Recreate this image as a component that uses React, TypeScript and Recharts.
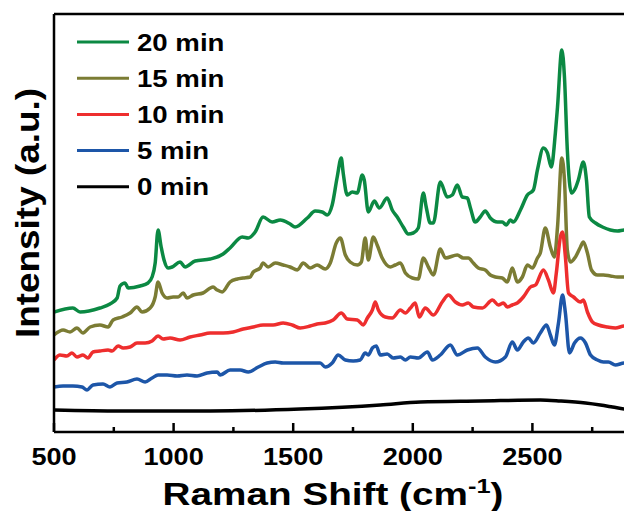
import React from 'react';
import { LineChart, Line, XAxis, YAxis, Legend } from 'recharts';

const seriesNames = ['20 min', '15 min', '10 min', '5 min', '0 min'];
const seriesColors = ['#0B8943', '#7B7C34', '#EE2E2E', '#1D56A8', '#000000'];

const wn20 = [500, 579, 609, 692, 734, 764, 776, 797, 810, 860, 893, 910, 923, 935, 948, 960, 977, 994, 1027, 1048, 1090, 1153, 1207, 1236, 1287, 1312, 1341, 1374, 1412, 1446, 1487, 1508, 1559, 1592, 1621, 1642, 1663, 1684, 1701, 1709, 1726, 1747, 1768, 1789, 1797, 1814, 1839, 1860, 1893, 1914, 1935, 1960, 1981, 2002, 2023, 2044, 2056, 2073, 2086, 2115, 2144, 2165, 2186, 2207, 2228, 2241, 2261, 2282, 2303, 2324, 2354, 2374, 2391, 2408, 2420, 2450, 2479, 2504, 2521, 2546, 2563, 2579, 2596, 2605, 2623, 2634, 2646, 2663, 2680, 2692, 2713, 2726, 2738, 2764, 2793, 2826, 2856, 2885, 2950];
const int20 = [120, 124, 120, 124, 128, 134, 146, 149, 144, 146, 149, 155, 169, 202, 185, 172, 164, 165, 170, 165, 171, 173, 178, 184, 195, 194, 200, 215, 210, 212, 208, 205, 214, 221, 220, 217, 227, 255, 274, 259, 237, 240, 239, 257, 252, 220, 231, 224, 234, 222, 215, 205, 198, 199, 204, 239, 225, 209, 209, 250, 235, 237, 247, 235, 234, 224, 210, 215, 221, 214, 210, 210, 207, 212, 210, 222, 237, 242, 262, 284, 279, 265, 299, 325, 382, 355, 282, 239, 244, 252, 270, 252, 215, 209, 205, 202, 201, 202, 201];

const wn15 = [500, 538, 567, 596, 621, 651, 692, 726, 747, 785, 818, 847, 868, 902, 923, 935, 952, 973, 998, 1019, 1040, 1056, 1082, 1123, 1165, 1182, 1203, 1236, 1266, 1291, 1320, 1333, 1362, 1374, 1395, 1425, 1458, 1487, 1517, 1542, 1571, 1600, 1634, 1655, 1680, 1697, 1718, 1738, 1768, 1785, 1801, 1814, 1835, 1851, 1872, 1906, 1927, 1948, 1969, 1998, 2023, 2044, 2065, 2086, 2115, 2136, 2186, 2211, 2232, 2253, 2274, 2303, 2324, 2345, 2374, 2395, 2416, 2437, 2458, 2479, 2500, 2521, 2533, 2554, 2575, 2592, 2605, 2623, 2634, 2646, 2659, 2680, 2701, 2713, 2730, 2747, 2772, 2797, 2826, 2856, 2885, 2950];
const int15 = [97, 102, 100, 104, 99, 105, 107, 105, 112, 115, 119, 125, 120, 124, 135, 150, 139, 134, 135, 135, 139, 134, 137, 139, 145, 142, 140, 150, 153, 154, 155, 160, 164, 169, 165, 169, 167, 165, 162, 169, 164, 167, 163, 169, 189, 194, 177, 170, 167, 170, 194, 172, 195, 187, 174, 165, 167, 169, 159, 154, 153, 174, 165, 157, 183, 174, 177, 174, 174, 169, 164, 162, 157, 155, 154, 150, 164, 150, 155, 167, 164, 174, 179, 204, 185, 175, 205, 274, 252, 182, 170, 175, 185, 190, 179, 162, 157, 157, 156, 155, 155, 155];

const wn10 = [500, 525, 554, 575, 596, 621, 642, 663, 692, 726, 743, 768, 789, 818, 847, 881, 910, 935, 956, 985, 1027, 1069, 1111, 1153, 1207, 1249, 1291, 1333, 1374, 1416, 1458, 1496, 1529, 1571, 1600, 1634, 1667, 1701, 1726, 1768, 1793, 1810, 1831, 1843, 1856, 1885, 1914, 1948, 1969, 1990, 2010, 2027, 2052, 2086, 2123, 2149, 2178, 2207, 2232, 2253, 2291, 2333, 2358, 2379, 2395, 2416, 2437, 2462, 2492, 2513, 2546, 2567, 2588, 2600, 2617, 2626, 2638, 2651, 2672, 2701, 2713, 2730, 2751, 2776, 2814, 2847, 2885, 2950];
const int10 = [72, 77, 76, 79, 75, 77, 74, 80, 81, 82, 81, 86, 84, 85, 89, 89, 91, 96, 93, 94, 92, 95, 97, 99, 99, 100, 103, 105, 107, 107, 109, 107, 104, 106, 108, 109, 112, 119, 113, 112, 107, 114, 122, 130, 122, 115, 114, 122, 119, 124, 129, 115, 124, 117, 130, 137, 130, 127, 129, 125, 124, 132, 127, 129, 125, 127, 129, 135, 145, 147, 162, 152, 139, 159, 195, 200, 175, 139, 135, 130, 132, 120, 110, 107, 105, 104, 106, 106];

const wn5 = [500, 538, 579, 617, 638, 663, 705, 734, 764, 805, 847, 881, 910, 935, 973, 1015, 1056, 1098, 1140, 1182, 1195, 1236, 1278, 1312, 1354, 1391, 1425, 1458, 1500, 1542, 1584, 1613, 1634, 1663, 1688, 1718, 1751, 1780, 1801, 1814, 1831, 1847, 1864, 1893, 1918, 1948, 1969, 1990, 2023, 2061, 2082, 2115, 2157, 2186, 2228, 2270, 2303, 2345, 2387, 2416, 2437, 2462, 2483, 2504, 2533, 2559, 2575, 2592, 2609, 2626, 2638, 2655, 2676, 2701, 2722, 2743, 2772, 2797, 2818, 2847, 2885, 2950];
const int5 = [45, 46, 46, 45, 42, 47, 48, 45, 49, 50, 53, 50, 54, 57, 57, 56, 57, 56, 59, 60, 57, 62, 62, 60, 65, 69, 70, 69, 69, 69, 69, 69, 65, 69, 77, 72, 71, 72, 79, 77, 84, 86, 77, 78, 74, 75, 72, 75, 74, 80, 72, 77, 87, 77, 82, 84, 75, 70, 75, 90, 82, 90, 94, 89, 99, 107, 97, 87, 109, 137, 119, 79, 89, 94, 89, 77, 72, 70, 70, 67, 69, 69];

const wn0 = [500, 776, 1153, 1529, 1864, 2032, 2282, 2533, 2617, 2722, 2784, 2835, 2885, 2950];
const int0 = [22, 21, 21, 23, 27, 30, 31, 32, 31, 29, 27, 25, 23, 21];

const xTicks = [500, 750, 1000, 1250, 1500, 1750, 2000, 2250, 2500, 2750];
const xDomain = [500, 3000];
const yDomain = [0, 418];

const toPoints = (xs: number[], ys: number[]) => xs.map((x, i) => ({ x, y: ys[i] }));
const seriesData = [
  toPoints(wn20, int20),
  toPoints(wn15, int15),
  toPoints(wn10, int10),
  toPoints(wn5, int5),
  toPoints(wn0, int0),
];

const FONT = '"Liberation Sans", Arial, Helvetica, sans-serif';

const XTick = (props: any) => {
  const { x, y, payload } = props;
  const v = payload.value;
  const major = v % 500 === 0;
  return (
    <g>
      <line x1={x} x2={x} y1={y} y2={y - (major ? 9 : 5)} stroke="#000" strokeWidth={2.5} />
      {major && (
        <text
          transform={`translate(${x},${y + 33}) scale(1.13,1)`}
          textAnchor="middle"
          fontSize={24}
          fontWeight="bold"
          fontFamily={FONT}
          fill="#000"
        >
          {v}
        </text>
      )}
    </g>
  );
};

const XLabel = (props: any) => {
  const vb = props.viewBox || { x: 54, y: 432 };
  const cx = vb.x + 279;
  const by = vb.y + 73;
  return (
    <text
      transform={`translate(${cx},${by}) scale(1.21,1)`}
      textAnchor="middle"
      fontSize={32}
      fontWeight="bold"
      fontFamily={FONT}
      fill="#000"
    >
      Raman Shift (cm
      <tspan dy={-12} fontSize={21}>-1</tspan>
      <tspan dy={12}>)</tspan>
    </text>
  );
};

const YLabel = (props: any) => {
  const vb = props.viewBox || { x: 53, y: 14 };
  const rx = vb.x + (vb.width || 0);
  return (
    <text
      transform={`translate(${rx - 15},${vb.y + 199}) rotate(-90)`}
      textAnchor="middle"
      fontSize={34}
      fontWeight="bold"
      fontFamily={FONT}
      fill="#000"
      textLength={250}
      lengthAdjust="spacingAndGlyphs"
    >
      Intensity (a.u.)
    </text>
  );
};

const LegendContent = () => (
  <svg width={260} height={210} style={{ display: 'block' }}>
    {seriesNames.map((name, i) => {
      const cy = 42 + i * 36.2;
      return (
        <g key={name}>
          <line x1={77} x2={129} y1={cy} y2={cy} stroke={seriesColors[i]} strokeWidth={3} />
          <text
            transform={`translate(137,${cy + 8.5}) scale(1.15,1)`}
            fontSize={24}
            fontWeight="bold"
            fontFamily={FONT}
            fill="#000"
          >
            {name}
          </text>
        </g>
      );
    })}
  </svg>
);

export default function App() {
  return (
    <div
      style={{
        position: 'absolute',
        left: 0,
        top: 0,
        width: 624,
        height: 511,
        overflow: 'hidden',
        background: '#fff',
      }}
    >
      <LineChart width={660} height={511} margin={{ top: 13, right: 8, bottom: 78, left: 53 }}>
        <XAxis
          xAxisId="b"
          dataKey="x"
          type="number"
          domain={xDomain}
          ticks={xTicks}
          interval={0}
          height={1}
          tickSize={0}
          tickMargin={0}
          tickLine={false}
          axisLine={{ stroke: '#000', strokeWidth: 2.5 }}
          tick={<XTick />}
          label={<XLabel />}
          allowDataOverflow
        />
        <XAxis
          xAxisId="t"
          orientation="top"
          dataKey="x"
          type="number"
          domain={xDomain}
          height={1}
          tick={false}
          tickLine={false}
          axisLine={{ stroke: '#000', strokeWidth: 2.5 }}
          allowDataOverflow
        />
        <YAxis
          dataKey="y"
          type="number"
          domain={yDomain}
          width={1}
          tick={false}
          tickLine={false}
          axisLine={{ stroke: '#000', strokeWidth: 2.5 }}
          label={<YLabel />}
          allowDataOverflow
        />
        <Legend
          layout="vertical"
          align="center"
          verticalAlign="middle"
          wrapperStyle={{ position: 'absolute', left: 0, top: 0, width: 260, height: 210 }}
          content={<LegendContent />}
        />
        {seriesNames.map((name, i) => (
          <Line
            key={name}
            name={name}
            xAxisId="b"
            data={seriesData[i]}
            dataKey="y"
            type="monotone"
            stroke={seriesColors[i]}
            strokeWidth={3.5}
            dot={false}
            activeDot={false}
            isAnimationActive={false}
          />
        ))}
      </LineChart>
    </div>
  );
}
